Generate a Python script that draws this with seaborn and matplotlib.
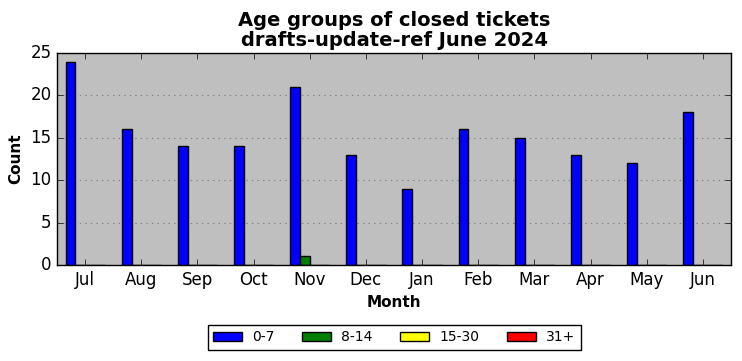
import matplotlib
matplotlib.use('Agg')
import matplotlib.pyplot as plt
import seaborn as sns
import pandas as pd
from matplotlib.patches import Patch

months = ['Jul', 'Aug', 'Sep', 'Oct', 'Nov', 'Dec', 'Jan', 'Feb', 'Mar', 'Apr', 'May', 'Jun']
age_groups = ['0-7', '8-14', '15-30', '31+']
age_0_7 = [24, 16, 14, 14, 21, 13, 9, 16, 15, 13, 12, 18]
age_8_14 = [0, 0, 0, 0, 1, 0, 0, 0, 0, 0, 0, 0]
age_15_30 = [0, 0, 0, 0, 0, 0, 0, 0, 0, 0, 0, 0]
age_31_plus = [0, 0, 0, 0, 0, 0, 0, 0, 0, 0, 0, 0]
colors = ['blue', 'green', 'yellow', 'red']

series = [age_0_7, age_8_14, age_15_30, age_31_plus]
rows = []
for group, values in zip(age_groups, series):
    for month, v in zip(months, values):
        rows.append({'Month': month, 'Age': group, 'Count': v})
df = pd.DataFrame(rows)

plt.style.use('classic')
fig = plt.figure(figsize=(7.42, 3.61), dpi=100)
ax = fig.add_axes([0.077, 0.266, 0.908, 0.587])
ax.set_facecolor('#bfbfbf')

sns.barplot(data=df, x='Month', y='Count', hue='Age', hue_order=age_groups,
            order=months, palette=colors, width=0.7, edgecolor='black',
            linewidth=1, saturation=1, ax=ax, legend=False)

ax.set_ylim(0, 25)
ax.set_yticks(range(0, 26, 5))
ax.set_xlim(-0.5, 11.5)
ax.yaxis.grid(True, linestyle=':', color='gray', linewidth=0.8)
ax.xaxis.grid(False)
ax.set_axisbelow(True)
ax.set_title('Age groups of closed tickets\ndrafts-update-ref June 2024',
             fontsize=14, fontweight='bold', linespacing=1.1)
ax.set_xlabel('Month', fontweight='bold', fontsize=11)
ax.set_ylabel('Count', fontweight='bold', fontsize=11)

handles = [Patch(facecolor=c, edgecolor='black', label=g) for c, g in zip(colors, age_groups)]
ax.legend(handles=handles, loc='upper center', bbox_to_anchor=(0.5, -0.25),
          ncol=4, fontsize=10, frameon=True, fancybox=False, handlelength=2.1,
          handletextpad=0.7, columnspacing=2.0)

fig.savefig('out.png', dpi=100, facecolor='white')
